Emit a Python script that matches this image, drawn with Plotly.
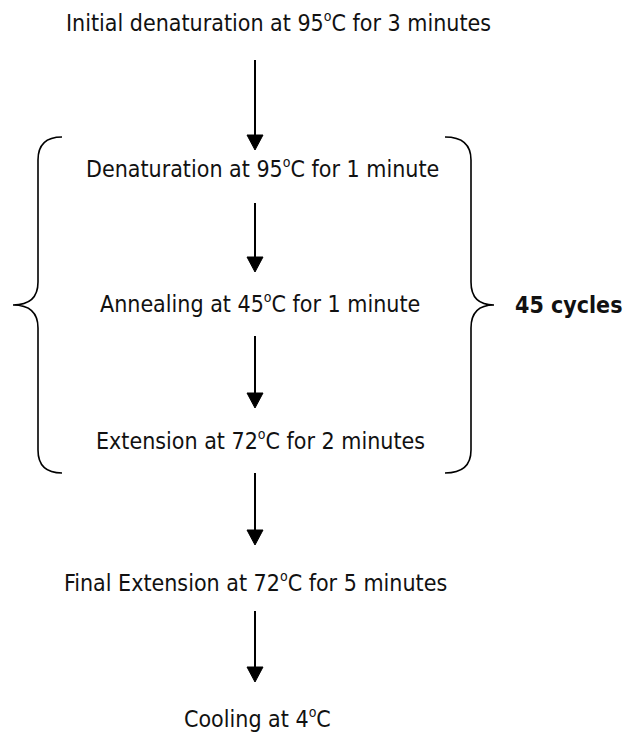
import plotly.graph_objects as go

# ---- diagram content ----
DEG = "<sup><span style='font-size:14px'>o</span></sup>"
steps = [
    f"Initial denaturation at 95{DEG}C for 3 minutes",
    f"Denaturation at 95{DEG}C for 1 minute",
    f"Annealing at 45{DEG}C for 1 minute",
    f"Extension at 72{DEG}C for 2 minutes",
    f"Final Extension at 72{DEG}C for 5 minutes",
    f"Cooling at 4{DEG}C",
]
step_x = [278, 262, 260, 260, 255, 257]
step_y = [22, 168, 303, 440, 582, 718]
arrow_x = 255
arrow_top = [60, 203, 336, 473, 611]
arrow_tip = [150, 272, 408, 545, 682]
cycle_label = "45 cycles"
cycle_group = (1, 3)  # steps enclosed by braces

W, H = 637, 736
PAD = 8  # page body margin
FONT = "DejaVu Sans Condensed, Liberation Sans Narrow, sans-serif"

fig = go.Figure()
fig.add_trace(go.Scatter(x=[PAD, W], y=[PAD, H], mode="markers",
                         marker=dict(opacity=0), hoverinfo="skip", showlegend=False))

for t, x, y in zip(steps, step_x, step_y):
    fig.add_annotation(x=x, y=y, text=t, showarrow=False, xanchor="center", yanchor="middle",
                       font=dict(family=FONT, size=23, color="#111111"))

shapes = []
head_h, head_w = 15, 8
for y0, y1 in zip(arrow_top, arrow_tip):
    shapes.append(dict(type="line", x0=arrow_x, x1=arrow_x, y0=y0, y1=y1 - head_h + 1,
                       line=dict(color="black", width=2)))
    shapes.append(dict(type="path",
                       path=f"M {arrow_x-head_w} {y1-head_h} L {arrow_x+head_w} {y1-head_h} L {arrow_x} {y1} Z",
                       fillcolor="black", line=dict(color="black", width=1)))

# braces
top, bot = 137, 473
mid = (step_y[cycle_group[0]] + step_y[cycle_group[1]]) / 2 + 1
r = 23
lx_end, lx, lp = 62, 38, 13
left = (f"M {lx_end} {top} Q {lx} {top} {lx} {top+r} L {lx} {mid-r} "
        f"Q {lx} {mid} {lp} {mid} Q {lx} {mid} {lx} {mid+r} L {lx} {bot-r} "
        f"Q {lx} {bot} {lx_end} {bot}")
rx_end, rx, rp = 445, 471, 494
right = (f"M {rx_end} {top} Q {rx} {top} {rx} {top+r} L {rx} {mid-r} "
         f"Q {rx} {mid} {rp} {mid} Q {rx} {mid} {rx} {mid+r} L {rx} {bot-r} "
         f"Q {rx} {bot} {rx_end} {bot}")
for p in (left, right):
    shapes.append(dict(type="path", path=p, line=dict(color="black", width=1.6)))

fig.add_annotation(x=513, y=mid, text=f"<b>{cycle_label}</b>", showarrow=False,
                   xanchor="left", yanchor="middle",
                   font=dict(family=FONT, size=23, color="#111111"))

fig.update_layout(
    width=W - PAD, height=H - PAD, margin=dict(l=0, r=0, t=0, b=0),
    paper_bgcolor="white", plot_bgcolor="white", shapes=shapes,
    xaxis=dict(range=[PAD, W], visible=False, fixedrange=True),
    yaxis=dict(range=[H, PAD], visible=False, fixedrange=True),
)
fig.write_html("out.html")
